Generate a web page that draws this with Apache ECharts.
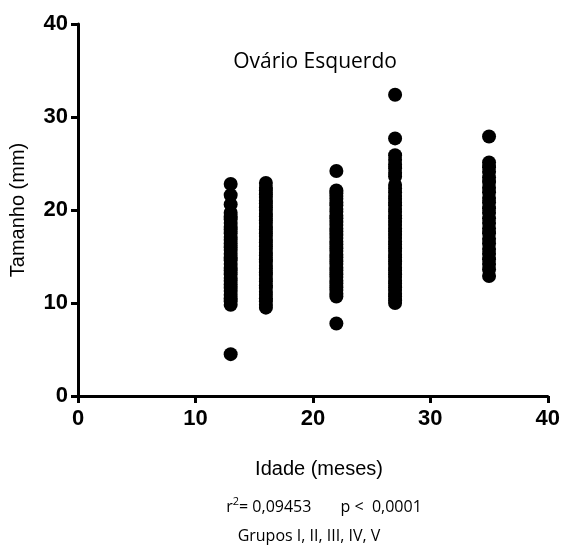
<!DOCTYPE html>
<html>
<head>
<meta charset="utf-8">
<script src="https://cdn.jsdelivr.net/npm/echarts@6/dist/echarts.min.js"></script>
<style>
  html, body { margin: 0; padding: 0; background: #fff; }
  #chart { width: 563px; height: 551px; }
</style>
</head>
<body>
<div id="chart"></div>
<script>
// Left ovary size (mm) by age group (months)
const groupAges = [13, 16, 22, 27, 35];
const groupI   = [4.5, 9.8, 10.2, 10.5, 10.9, 11.3, 11.6, 12.0, 12.4, 12.7, 13.1, 13.5, 13.8, 14.2, 14.6, 14.9, 15.3, 15.7, 16.0, 16.4, 16.8, 17.1, 17.5, 17.9, 18.2, 18.6, 19.0, 19.3, 19.7, 20.6, 21.6, 22.8];
const groupII  = [9.5, 9.8, 10.2, 10.5, 10.9, 11.2, 11.6, 11.9, 12.3, 12.6, 13.0, 13.3, 13.7, 14.0, 14.4, 14.7, 15.1, 15.4, 15.8, 16.1, 16.5, 16.8, 17.2, 17.5, 17.9, 18.2, 18.6, 18.9, 19.3, 19.6, 20.0, 20.3, 20.7, 21.0, 21.4, 21.7, 22.1, 22.4, 22.9];
const groupIII = [7.8, 10.7, 11.0, 11.4, 11.7, 12.1, 12.4, 12.8, 13.1, 13.5, 13.8, 14.2, 14.5, 14.9, 15.2, 15.6, 15.9, 16.3, 16.6, 17.0, 17.3, 17.7, 18.0, 18.4, 18.7, 19.1, 19.4, 19.8, 20.1, 20.5, 20.8, 21.2, 21.5, 21.8, 22.1, 24.2];
const groupIV  = [10.0, 10.3, 10.7, 11.0, 11.4, 11.7, 12.1, 12.4, 12.8, 13.1, 13.5, 13.8, 14.2, 14.5, 14.9, 15.2, 15.6, 15.9, 16.3, 16.6, 17.0, 17.3, 17.7, 18.0, 18.4, 18.7, 19.1, 19.4, 19.8, 20.1, 20.5, 20.8, 21.2, 21.5, 21.9, 22.3, 22.7, 23.6, 24.0, 24.5, 24.9, 25.4, 25.9, 27.7, 32.4];
const groupV   = [12.9, 13.6, 14.2, 14.7, 15.3, 15.8, 16.4, 16.9, 17.5, 18.0, 18.6, 19.1, 19.7, 20.2, 20.8, 21.3, 21.9, 22.4, 23.0, 23.5, 24.1, 24.6, 25.1, 27.9];

const xTicks = [0, 10, 20, 30, 40];
const yTicks = [0, 10, 20, 30, 40];

const groups = [groupI, groupII, groupIII, groupIV, groupV];
const points = [];
groups.forEach((vals, i) => vals.forEach(v => points.push([groupAges[i], v])));

const chart = echarts.init(document.getElementById('chart'), null, { renderer: 'canvas' });

const axisFont = { fontFamily: 'Liberation Sans', fontWeight: 'bold', fontSize: 22, color: '#000' };
const statFont = { fontFamily: 'Open Sans', fontWeight: 'normal', color: '#000' };

chart.setOption({
  animation: false,
  backgroundColor: '#fff',
  title: [
    {
      text: 'Ovário Esquerdo',
      left: 310, top: 47, textAlign: 'center',
      textStyle: { fontFamily: 'Open Sans', fontWeight: 'normal', fontSize: 21, color: '#000' }
    },
    {
      text: 'Idade (meses)',
      left: 314, top: 454, textAlign: 'center',
      textStyle: { fontFamily: 'Liberation Sans', fontWeight: 'normal', fontSize: 20, color: '#000' }
    },
    {
      text: '{r|r}{s|2}{t|= 0,09453       p <  0,0001}',
      left: 319, top: 491, textAlign: 'center',
      textStyle: {
        fontWeight: 'normal',
        rich: {
          r: Object.assign({ fontSize: 16, verticalAlign: 'bottom' }, statFont),
          s: Object.assign({ fontSize: 11, verticalAlign: 'top', padding: [0, 0, 8, 0] }, statFont),
          t: Object.assign({ fontSize: 16, verticalAlign: 'bottom' }, statFont)
        }
      }
    },
    {
      text: 'Grupos I, II, III, IV, V',
      left: 304, top: 523, textAlign: 'center',
      textStyle: { fontFamily: 'Open Sans', fontWeight: 'normal', fontSize: 16, color: '#000' }
    }
  ],
  grid: { left: 78, right: 13, top: 24, bottom: 155, containLabel: false },
  xAxis: {
    type: 'value', min: xTicks[0], max: xTicks[xTicks.length - 1], interval: 10,
    axisLine: { lineStyle: { color: '#000', width: 3 } },
    axisTick: { length: 7, lineStyle: { color: '#000', width: 3 } },
    axisLabel: Object.assign({ margin: 12 }, axisFont),
    splitLine: { show: false }
  },
  yAxis: {
    type: 'value', min: yTicks[0], max: yTicks[yTicks.length - 1], interval: 10,
    name: 'Tamanho (mm)', nameLocation: 'middle', nameGap: 50, nameRotate: 90,
    nameTextStyle: { fontFamily: 'Liberation Sans', fontSize: 20, color: '#000' },
    axisLine: { show: true, lineStyle: { color: '#000', width: 3 } },
    axisTick: { show: true, length: 7, lineStyle: { color: '#000', width: 3 } },
    axisLabel: Object.assign({ margin: 10 }, axisFont),
    splitLine: { show: false }
  },
  series: [{
    type: 'scatter',
    data: points,
    symbol: 'circle',
    symbolSize: 14,
    itemStyle: { color: '#000', opacity: 1 }
  }]
});
</script>
</body>
</html>
